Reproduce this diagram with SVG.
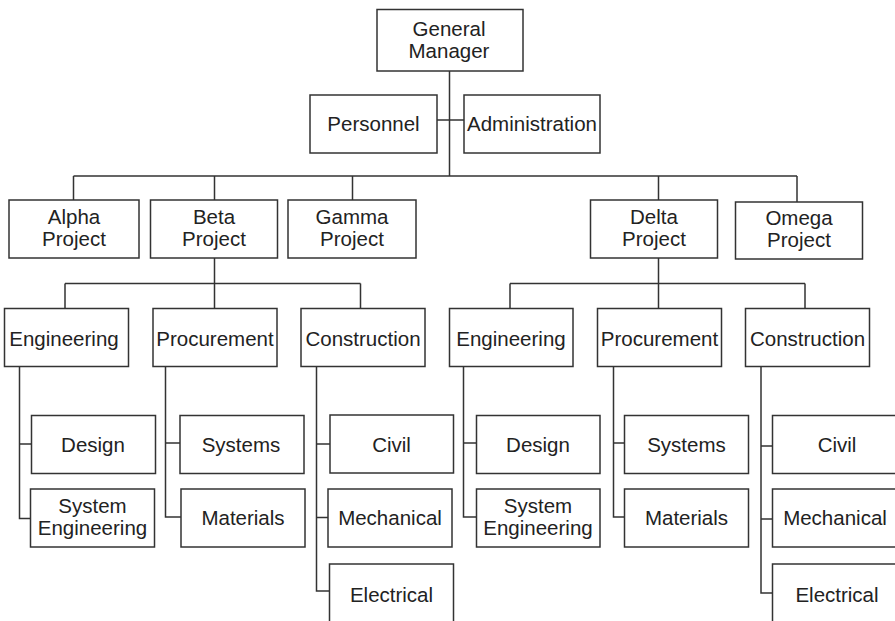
<svg xmlns="http://www.w3.org/2000/svg" width="895" height="621" viewBox="0 0 895 621">
<style>
.box{fill:#fff;stroke:#333;stroke-width:1.5}
.lbl{font-family:"Liberation Sans",Arial,sans-serif;font-size:20.5px;fill:#222;text-anchor:middle}
.con{fill:none;stroke:#333;stroke-width:1.5}
</style>
<rect width="895" height="621" fill="#fff"/>
<g id="connectors" class="con">
<path d="M449.5 71V176M437 120H464M73.5 176H797M73.5 176V200M214.5 176V200M352.5 176V200M658.5 176V200M797 176V202"/>
<path d="M214.5 258V283.5M65 283.5H360.5M65 283.5V308.5M214.5 283.5V308.5M360.5 283.5V308.5"/>
<path d="M658.5 258V283.5M510 283.5H805M510 283.5V308.5M658.5 283.5V308.5M805 283.5V308.5"/>
<path d="M19.5 366.5V518.5H30.5M19.5 444H31.5"/>
<path d="M165.5 366.5V517H181M165.5 443H180"/>
<path d="M316.5 366.5V591H329.5M316.5 444H330M316.5 517.5H328"/>
<path d="M463.5 366.5V517H476.5M463.5 443H476.5"/>
<path d="M613.5 366.5V517H624.5M613.5 443H624.5"/>
<path d="M761 366.5V593H772.5M761 446H772.5M761 519H772.5"/>
</g>
<g id="gm"><rect class="box" x="377" y="9.5" width="146" height="61.5"/><text class="lbl" x="449" y="35.7">General</text><text class="lbl" x="449" y="57.7">Manager</text></g>
<g id="personnel"><rect class="box" x="310" y="95" width="127" height="58"/><text class="lbl" x="373.5" y="131">Personnel</text></g>
<g id="administration"><rect class="box" x="464" y="95" width="136" height="58"/><text class="lbl" x="532" y="131">Administration</text></g>
<g id="alpha"><rect class="box" x="9" y="200" width="130" height="58"/><text class="lbl" x="74" y="224">Alpha</text><text class="lbl" x="74" y="246">Project</text></g>
<g id="beta"><rect class="box" x="150.5" y="200" width="127" height="58"/><text class="lbl" x="214" y="224">Beta</text><text class="lbl" x="214" y="246">Project</text></g>
<g id="gamma"><rect class="box" x="288" y="200" width="128" height="58"/><text class="lbl" x="352" y="224">Gamma</text><text class="lbl" x="352" y="246">Project</text></g>
<g id="delta"><rect class="box" x="590.5" y="200" width="127" height="58"/><text class="lbl" x="654" y="224">Delta</text><text class="lbl" x="654" y="246">Project</text></g>
<g id="omega"><rect class="box" x="735.5" y="202" width="127" height="57"/><text class="lbl" x="799" y="225">Omega</text><text class="lbl" x="799" y="247">Project</text></g>
<g id="beta-engineering"><rect class="box" x="4.5" y="308.5" width="124" height="58"/><text class="lbl" x="64" y="345.5">Engineering</text></g>
<g id="beta-procurement"><rect class="box" x="153" y="308.5" width="124" height="58"/><text class="lbl" x="215" y="345.5">Procurement</text></g>
<g id="beta-construction"><rect class="box" x="301" y="308.5" width="124" height="58"/><text class="lbl" x="363" y="345.5">Construction</text></g>
<g id="beta-design"><rect class="box" x="31.5" y="415.5" width="124" height="58"/><text class="lbl" x="93" y="451.5">Design</text></g>
<g id="beta-syseng"><rect class="box" x="30.5" y="489" width="124" height="58"/><text class="lbl" x="92.5" y="513">System</text><text class="lbl" x="92.5" y="535">Engineering</text></g>
<g id="beta-systems"><rect class="box" x="180" y="415.5" width="124" height="58"/><text class="lbl" x="241" y="451.5">Systems</text></g>
<g id="beta-materials"><rect class="box" x="181" y="489" width="124" height="58"/><text class="lbl" x="243" y="525">Materials</text></g>
<g id="beta-civil"><rect class="box" x="330" y="415" width="123.5" height="58"/><text class="lbl" x="391.5" y="451.5">Civil</text></g>
<g id="beta-mechanical"><rect class="box" x="328" y="489" width="124" height="58"/><text class="lbl" x="390" y="525">Mechanical</text></g>
<g id="beta-electrical"><rect class="box" x="329.5" y="564" width="124" height="60"/><text class="lbl" x="391.5" y="601.5">Electrical</text></g>
<g id="delta-engineering"><rect class="box" x="449.5" y="308.5" width="123.5" height="58"/><text class="lbl" x="511" y="345.5">Engineering</text></g>
<g id="delta-procurement"><rect class="box" x="597.5" y="308.5" width="124" height="58"/><text class="lbl" x="659.5" y="345.5">Procurement</text></g>
<g id="delta-construction"><rect class="box" x="745.5" y="308.5" width="124" height="58"/><text class="lbl" x="807.5" y="345.5">Construction</text></g>
<g id="delta-design"><rect class="box" x="476.5" y="415.5" width="123.5" height="58"/><text class="lbl" x="538" y="451.5">Design</text></g>
<g id="delta-syseng"><rect class="box" x="476.5" y="489" width="123.5" height="58"/><text class="lbl" x="538" y="513">System</text><text class="lbl" x="538" y="535">Engineering</text></g>
<g id="delta-systems"><rect class="box" x="624.5" y="415.5" width="124" height="58"/><text class="lbl" x="686.5" y="451.5">Systems</text></g>
<g id="delta-materials"><rect class="box" x="624.5" y="489" width="124" height="58"/><text class="lbl" x="686.5" y="525">Materials</text></g>
<g id="delta-civil"><rect class="box" x="772.5" y="415.5" width="128" height="58"/><text class="lbl" x="837" y="451.5">Civil</text></g>
<g id="delta-mechanical"><rect class="box" x="772.5" y="489" width="128" height="58"/><text class="lbl" x="835" y="525">Mechanical</text></g>
<g id="delta-electrical"><rect class="box" x="772.5" y="564" width="128" height="60"/><text class="lbl" x="837" y="601.5">Electrical</text></g>
</svg>
